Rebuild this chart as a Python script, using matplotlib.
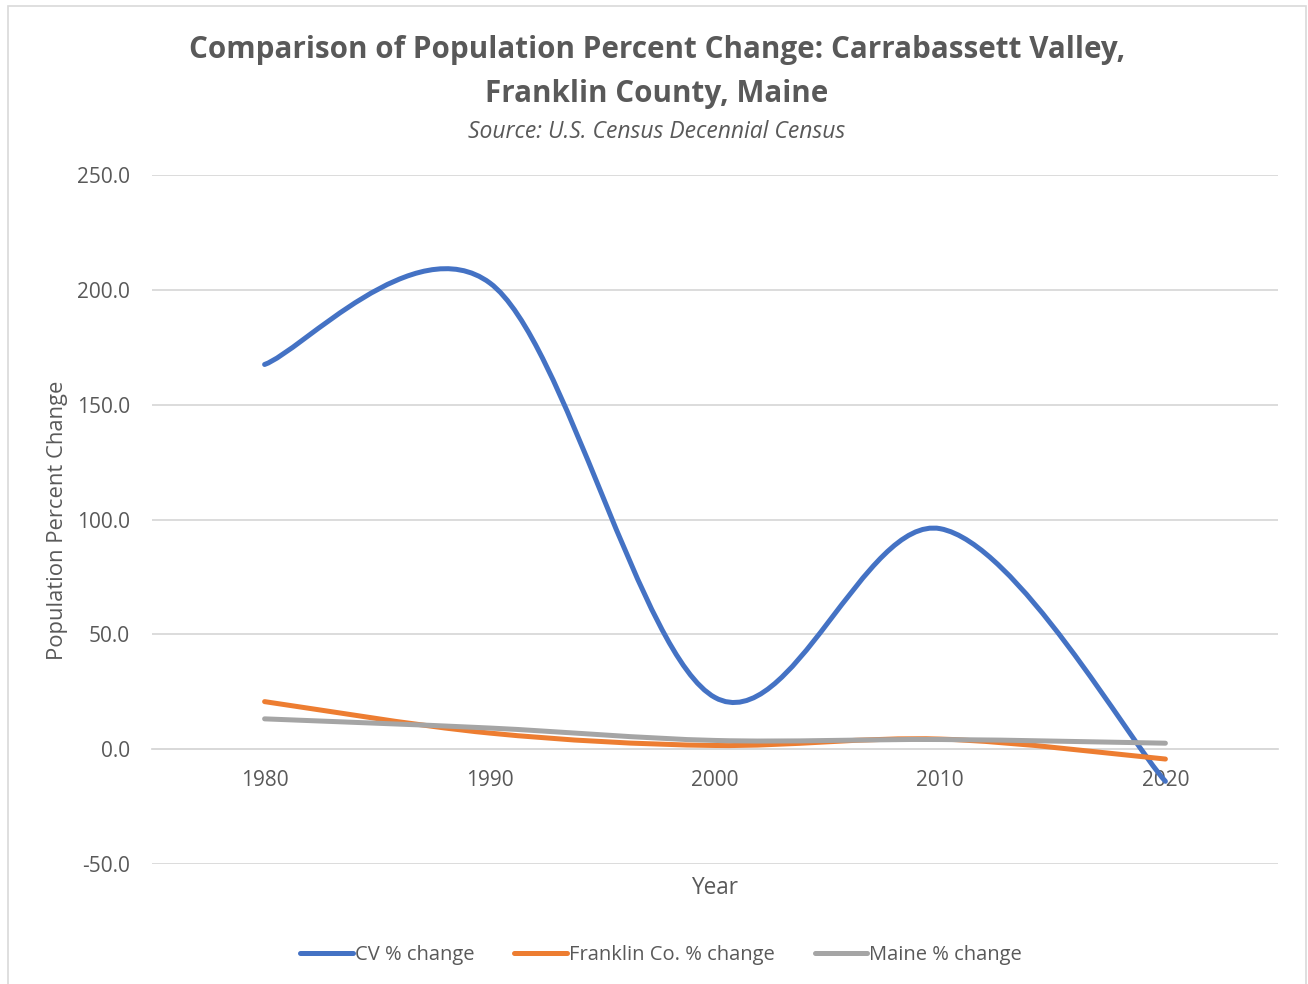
import matplotlib
matplotlib.use("Agg")
import matplotlib.pyplot as plt
from matplotlib.path import Path
from matplotlib.patches import PathPatch, Rectangle
from matplotlib.lines import Line2D

# datos
years = [1980, 1990, 2000, 2010, 2020]
cv_change = [167.5, 203.0, 22.5, 96.0, -14.0]
franklin_change = [20.7, 7.0, 1.6, 4.4, -4.3]
maine_change = [13.2, 9.2, 3.8, 4.2, 2.6]

series_names = ["CV % change", "Franklin Co. % change", "Maine % change"]
series_colors = ["#4472c4", "#ed7d31", "#a5a5a5"]

plt.rcParams['font.family'] = ['Open Sans', 'DejaVu Sans']
gris = "#595959"


def smooth_path(xs, ys):
    """Curva suave tipo Excel (Catmull-Rom con Bezier cubicas)"""
    pts = list(zip(xs, ys))
    n = len(pts)
    verts = [pts[0]]
    codes = [Path.MOVETO]
    for i in range(n - 1):
        p0 = pts[i - 1] if i > 0 else pts[i]
        p1 = pts[i]
        p2 = pts[i + 1]
        p3 = pts[i + 2] if i + 2 < n else pts[i + 1]
        c1 = (p1[0] + (p2[0] - p0[0]) / 6.0, p1[1] + (p2[1] - p0[1]) / 6.0)
        c2 = (p2[0] - (p3[0] - p1[0]) / 6.0, p2[1] - (p3[1] - p1[1]) / 6.0)
        verts += [c1, c2, p2]
        codes += [Path.CURVE4] * 3
    return Path(verts, codes)


fig = plt.figure(figsize=(13.08, 9.84), dpi=100)
ax = fig.add_axes([152 / 1308, 1 - 864 / 984, (1278 - 152) / 1308, (864 - 175) / 984])

for ys, c in zip([cv_change, franklin_change, maine_change], series_colors):
    patch = PathPatch(smooth_path(years, ys), facecolor='none', edgecolor=c,
                      lw=3.6, capstyle='round', joinstyle='round', zorder=3)
    ax.add_patch(patch)

ax.set_xlim(1975, 2025)
ax.set_ylim(-50, 250)
ax.set_yticks([-50, 0, 50, 100, 150, 200, 250])
ax.set_yticklabels(["%.1f" % v for v in ax.get_yticks()])
ax.set_xticks(years)
ax.set_xticklabels([str(y) for y in years])
ax.grid(axis='y', color='#d9d9d9', lw=1.3)
ax.set_axisbelow(True)

for s in ['top', 'right', 'left']:
    ax.spines[s].set_visible(False)
ax.spines['bottom'].set_position(('data', 0))
ax.spines['bottom'].set_color('#d9d9d9')
ax.spines['bottom'].set_linewidth(1.3)
ax.tick_params(axis='both', length=0, labelsize=15, labelcolor=gris)
ax.tick_params(axis='y', pad=16)
ax.tick_params(axis='x', pad=15)

# titulos
fig.text(0.5023, 1 - 50 / 984, "Comparison of Population Percent Change: Carrabassett Valley,",
         ha='center', va='center', fontsize=21.3, fontweight='bold', color=gris)
fig.text(0.5023, 1 - 94 / 984, "Franklin County, Maine",
         ha='center', va='center', fontsize=21.3, fontweight='bold', color=gris)
fig.text(0.5023, 1 - 131.5 / 984, "Source: U.S. Census Decennial Census",
         ha='center', va='center', fontsize=16.5, style='italic', color=gris)

fig.text(58 / 1308, 1 - 520 / 984, "Population Percent Change", rotation=90,
         ha='center', va='center', fontsize=15.8, color=gris)
fig.text(715 / 1308, 1 - 887.5 / 984, "Year", ha='center', va='center', fontsize=16.3, color=gris)

handles = [Line2D([], [], color=c, lw=3.6, solid_capstyle='round') for c in series_colors]
fig.legend(handles, series_names, loc='center', bbox_to_anchor=(661 / 1308, 1 - 955 / 984),
           ncol=3, frameon=False, fontsize=14.5, labelcolor=gris, handlelength=2.6,
           handletextpad=0.1, columnspacing=2.0)

# borde del grafico
fig.patches.append(Rectangle((8 / 1308, -0.01), (1306 - 8) / 1308, 1 - 6 / 984 + 0.01,
                             transform=fig.transFigure, fill=False, edgecolor='#d9d9d9', lw=1.2))

fig.savefig("out.png", dpi=100)
